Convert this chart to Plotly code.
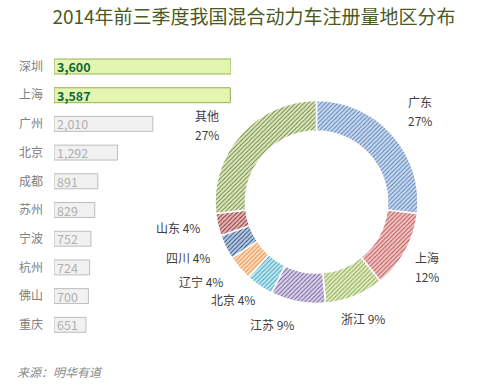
import math
import plotly.graph_objects as go

# ---------------- data ----------------
title_text = "2014年前三季度我国混合动力车注册量地区分布"
source_text = "来源：明华有道"

city_names = ["深圳", "上海", "广州", "北京", "成都", "苏州", "宁波", "杭州", "佛山", "重庆"]
city_values = [3600, 3587, 2010, 1292, 891, 829, 752, 724, 700, 651]

region_names = ["广东", "上海", "浙江", "江苏", "北京", "辽宁", "四川", "山东", "其他"]
region_shares = [26.8, 12.4, 9.4, 8.7, 4.4, 4.0, 3.9, 3.6, 26.8]
region_pct_labels = ["27%", "12%", "9%", "9%", "4%", "4%", "4%", "4%", "27%"]

# ---------------- style ----------------
W, H = 487, 391
FONT = "Noto Sans CJK SC, Microsoft YaHei, sans-serif"

bg_cols = ["#c8dbf2", "#f3c6c6", "#e2edc4", "#ddd4ec", "#c2eaf5", "#fddcbd", "#b9cde9", "#ebb9b9", "#dfe9c3"]
fg_cols = ["#5679ad", "#b34c4c", "#86a447", "#6b5a92", "#3a9bb8", "#e58b44", "#29466f", "#7b2b2b", "#667f34"]

# label placement: (angle nudge in degrees, distance from centre in px, two-line?)
label_style = [(0.5, 138, True), (1.7, 128, True), (0.2, 125, False), (9.4, 130, False),
               (6.5, 128, False), (6.3, 140, False), (3.3, 140, False), (2.4, 141, False),
               (-6.8, 134, True)]

# donut geometry (px)
cx, cy, R = 316.5, 202, 101.5

highlight_n = 2
bar_fill = ["#e4f5b0" if i < highlight_n else "#f1f1f1" for i in range(len(city_values))]
bar_line = ["#9bb055" if i < highlight_n else "#bdbdbd" for i in range(len(city_values))]
bar_text = [(f"<b>{v:,}</b>" if i < highlight_n else f"{v:,}") for i, v in enumerate(city_values)]
bar_text_col = ["#0b6a3c" if i < highlight_n else "#b0b0b0" for i in range(len(city_values))]

fig = go.Figure()

fig.add_trace(go.Bar(
    y=city_names, x=city_values, orientation="h",
    marker=dict(color=bar_fill, line=dict(color=bar_line, width=1)),
    width=0.52,
    text=bar_text, textposition="inside", insidetextanchor="start",
    constraintext="none",
    textfont=dict(color=bar_text_col, size=12.5, family=FONT),
    hoverinfo="skip", showlegend=False,
    xaxis="x", yaxis="y",
))

fig.add_trace(go.Pie(
    labels=region_names, values=region_shares,
    hole=0.70, sort=False, direction="clockwise", rotation=0,
    marker=dict(colors=bg_cols,
                line=dict(color="white", width=1.5),
                pattern=dict(shape="/", fgcolor=fg_cols, bgcolor=bg_cols,
                             size=3, solidity=0.3)),
    textinfo="none", hoverinfo="skip", showlegend=False,
    domain=dict(x=[(cx - R) / W, (cx + R) / W], y=[1 - (cy + R) / H, 1 - (cy - R) / H]),
))

# axes for bars: zero at x=54px, 3600 at 231px
x0_px, x1_px = 54, 231
row_top, row_step = 66.5, 28.7
n = len(city_names)
y_top_px = row_top - row_step / 2
y_bot_px = row_top + row_step * (n - 0.5)

annotations = []
total = sum(region_shares)
cum = 0
for name, val, pct, (nudge, dist, two) in zip(region_names, region_shares, region_pct_labels, label_style):
    mid = (cum + val / 2) / total * 360 + nudge
    cum += val
    a = math.radians(mid)
    px = cx + dist * math.sin(a)
    py = cy - dist * math.cos(a)
    if two:
        for txt, dy in ((name, -9.5), (pct, 9.5)):
            annotations.append(dict(x=px / W, y=1 - (py + dy) / H, xref="paper", yref="paper",
                                    xanchor="center", yanchor="middle",
                                    text=txt, showarrow=False,
                                    font=dict(size=12, color="#404040", family=FONT)))
    else:
        annotations.append(dict(x=px / W, y=1 - py / H, xref="paper", yref="paper",
                                xanchor="center", yanchor="middle",
                                text=f"{name} {pct}", showarrow=False,
                                font=dict(size=12, color="#404040", family=FONT)))

annotations.append(dict(x=15 / W, y=1 - 371 / H, xref="paper", yref="paper",
                        xanchor="left", yanchor="middle",
                        text=f"<i>{source_text}</i>", showarrow=False,
                        font=dict(size=12, color="#8a8a8a", family=FONT)))

fig.update_layout(
    width=W, height=H,
    margin=dict(l=0, r=0, t=0, b=0),
    paper_bgcolor="white", plot_bgcolor="rgba(0,0,0,0)",
    hovermode=False,
    title=dict(text=title_text, x=254 / W, xanchor="center", y=1 - 17 / H, yanchor="middle",
               font=dict(size=19, color="#4b5a23", family=FONT)),
    xaxis=dict(domain=[x0_px / W, x1_px / W], range=[0, 3600], visible=False, fixedrange=True),
    yaxis=dict(domain=[1 - y_bot_px / H, 1 - y_top_px / H], range=[n - 0.5, -0.5],
               showgrid=False, zeroline=False, showline=False, ticks="", fixedrange=True,
               ticklabelstandoff=10,
               tickfont=dict(size=12, color="#808080", family=FONT)),
    annotations=annotations,
    font=dict(family=FONT),
)

fig.write_html("out.html", config={"displayModeBar": False, "staticPlot": True},
               post_script="document.body.style.margin='0px';")
